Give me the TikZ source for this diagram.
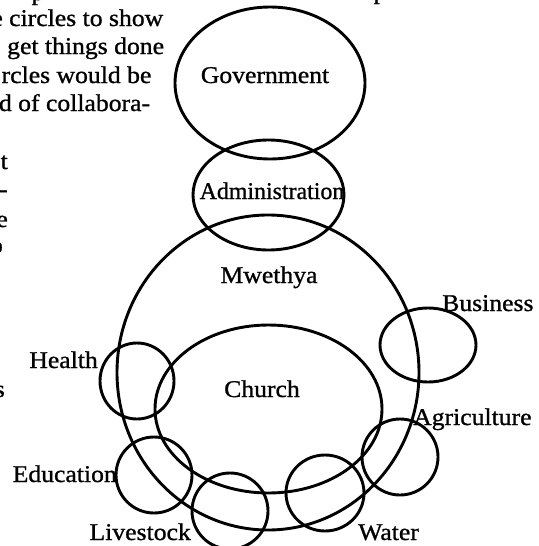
\documentclass[tikz,border=0pt]{standalone}
\usepackage{fontspec}
\setmainfont{Liberation Serif}[FakeStretch=1.07,FakeBold=1]
\usetikzlibrary{shapes.geometric}
\begin{document}
\begin{tikzpicture}[x=1pt,y=-1pt,
  ring/.style={draw, ellipse, line width=2.9pt, inner sep=0pt},
  lab/.style={inner sep=0pt, anchor=base, font=\fontsize{24}{28}\selectfont},
  para/.style={inner sep=0pt, font=\fontsize{24}{28}\selectfont}]
\useasboundingbox (0,0) rectangle (538,546);
\clip (0,0) rectangle (538,546);
% rings
\node[ring, minimum width=190pt, minimum height=152pt] (gov) at (270,83) {};
\node[ring, minimum width=151pt, minimum height=110pt] (adm) at (268.5,195) {};
\node[ring, minimum width=302pt, minimum height=315pt] (mwe) at (268,372.5) {};
\node[ring, minimum width=227pt, minimum height=168pt] (chu) at (268.5,409) {};
\node[ring, minimum width=96pt, minimum height=74pt] (bus) at (428,345) {};
\node[ring, minimum width=74pt, minimum height=76pt] (hea) at (137,381) {};
\node[ring, minimum width=76pt, minimum height=76pt] (edu) at (154,475) {};
\node[ring, minimum width=76pt, minimum height=76pt] (liv) at (230,511) {};
\node[ring, minimum width=78pt, minimum height=76pt] (wat) at (325,493) {};
\node[ring, minimum width=76pt, minimum height=76pt] (agr) at (400,457) {};
% labels
\node[lab] (tgov) at (265,83) {Government};
\node[lab] (tadm) at (272,199) {\scalebox{0.93}[1]{Administration}};
\node[lab] (tmwe) at (269,283) {Mwethya};
\node[lab] (tchu) at (262,397) {Church};
\node[lab, anchor=base west] (tbus) at (442,311) {Business};
\node[lab, anchor=base west] (tagr) at (413,425) {Agriculture};
\node[lab, anchor=base west] (twat) at (358,540) {Water};
\node[lab, anchor=base east] (tliv) at (191,540) {Livestock};
\node[lab, anchor=base east] (tedu) at (117,482) {Education};
\node[lab, anchor=base east] (thea) at (98,368) {Health};
% fragments of the surrounding page text
\node[para, anchor=base] (p0a) at (38,0) {p};
\node[para, anchor=base] (p0b) at (380,-1) {p};
\node[para, anchor=base west] (p1) at (9,26) {\llap{e }circles to show};
\node[para, anchor=base west] (p2) at (7,54) {get things done};
\node[para, anchor=base west] (p3) at (10,83) {\llap{r}cles would be};
\node[para, anchor=base west] (p4) at (18,111) {\llap{d }of collabora-};
\node[para, anchor=base east] (p6) at (8,169) {t};
\node[para, anchor=base east] (p7) at (8,197) {-};
\node[para, anchor=base east] (p8) at (8,227) {e};
\node[para, anchor=base east] (p9) at (3,253) {o};
\node[para, anchor=base east] (p14) at (5,397) {s};
\end{tikzpicture}
\end{document}
